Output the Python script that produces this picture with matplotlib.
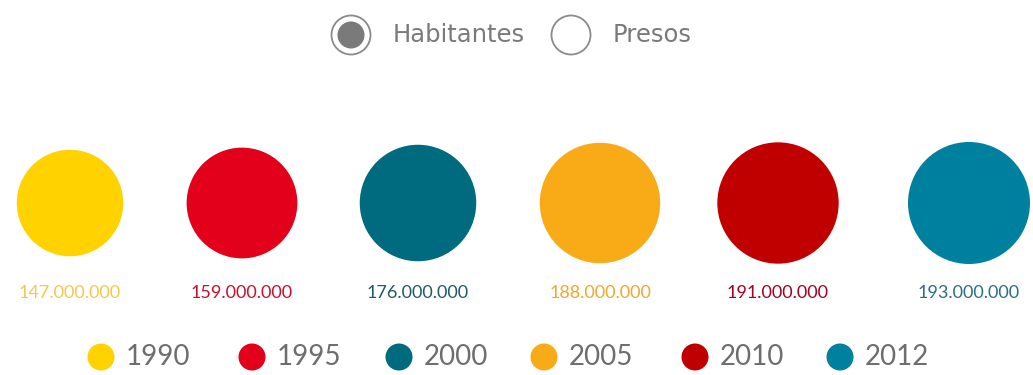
import matplotlib
matplotlib.use("Agg")
import matplotlib.pyplot as plt
from matplotlib.patches import Circle, Ellipse
import numpy as np

years = ["1990", "1995", "2000", "2005", "2010", "2012"]
habitantes = [147000000, 159000000, 176000000, 188000000, 191000000, 193000000]
labels = ["147.000.000", "159.000.000", "176.000.000", "188.000.000", "191.000.000", "193.000.000"]
colors = ["#FFD200", "#E2001A", "#006A7E", "#F9AB17", "#C00000", "#00809F"]
label_colors = ["#F2C94C", "#C8102E", "#1F5A6B", "#F0A830", "#A50021", "#2A6F85"]
radio_options = ["Habitantes", "Presos"]

plt.rcParams['font.family'] = ['Lato', 'DejaVu Sans']

W, H = 1033, 375
fig = plt.figure(figsize=(W / 100, H / 100), dpi=100)
ax = fig.add_axes([0, 0, 1, 1])
ax.set_xlim(0, W)
ax.set_ylim(H, 0)
ax.set_aspect('equal')
ax.axis('off')

# bubbles: area proportional to value
centers = [70, 242, 418, 600, 778, 969]
rmax = 61
vmax = max(habitantes)
for cx, v, c, lab, lc in zip(centers, habitantes, colors, labels, label_colors):
    r = rmax * np.sqrt(v / vmax)
    ax.add_patch(Circle((cx, 203), r, color=c, lw=0))
    ax.text(cx, 293, lab, ha='center', va='center', fontsize=13, color=lc)

# legend
leg_x = [101, 252, 399, 544, 695, 840]
for lx, yr, c in zip(leg_x, years, colors):
    ax.add_patch(Ellipse((lx, 357), 27, 27, color=c, lw=0))
    ax.text(lx + 25, 357, yr, ha='left', va='center', fontsize=20, color='#6e6e6e')

# radio buttons
rx = [351, 571]
for i, (x, name) in enumerate(zip(rx, radio_options)):
    ax.add_patch(Circle((x, 35), 19.5, facecolor='white', edgecolor='#8a8a8a', lw=1.3))
    if i == 0:
        ax.add_patch(Circle((x, 35), 13.5, color='#7a7a7a', lw=0))
    ax.text(x + 42, 35, name, ha='left', va='center', fontsize=17.5,
            color='#7a7a7a', family=['DejaVu Sans'])

fig.savefig('out.png', dpi=100)
